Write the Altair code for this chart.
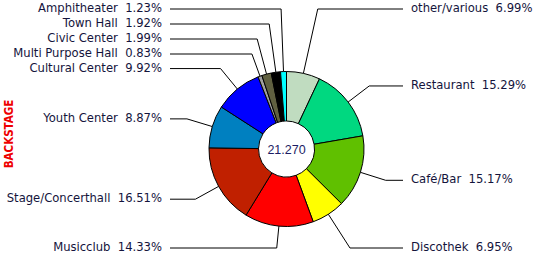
import math

import altair as alt
import pandas as pd

# Venue types, clockwise from 12 o'clock, with their share of all events (%)
categories = [
    "other/various", "Restaurant", "Café/Bar", "Discothek", "Musicclub",
    "Stage/Concerthall", "Youth Center", "Cultural Center",
    "Multi Purpose Hall", "Civic Center", "Town Hall", "Amphitheater",
]
shares = [6.99, 15.29, 15.17, 6.95, 14.33, 16.51, 8.87, 9.92, 0.83, 1.99, 1.92, 1.23]
colors = [
    "#c0dcc0", "#00d880", "#60c000", "#ffff00", "#ff0000",
    "#c02000", "#0080c0", "#0000ff",
    "#a0a0a0", "#606040", "#000000", "#00ffff",
]
total_label = "21.270"
side_title = "BACKSTAGE"

# Layout (pixels)
W, H = 536, 258
CX, CY = 286.5, 149
R_OUT, R_IN = 77.5, 28
R_LABEL = 104
TOP_ROW, BOTTOM_ROW, ROW_STEP = 9, 248, 15
LEFT_END, RIGHT_END = 170, 403
LEFT_TEXT, RIGHT_TEXT = 162, 411
TEXT_COLOR = "#14143c"

total = sum(shares)
labels = []
acc = 0.0
for i, (cat, pct) in enumerate(zip(categories, shares)):
    mid = (acc + pct / 2) / total * 2 * math.pi
    acc += pct
    s, c = math.sin(mid), math.cos(mid)
    labels.append(dict(idx=i, cat=cat, pct=pct, sin=s, cos=c,
                       side="right" if s >= 0 else "left",
                       y=CY - R_LABEL * c))

# Labels of near-vertical slices are stacked in rows at the top / bottom edge
for side in ("left", "right"):
    top = sorted([l for l in labels if l["side"] == side and l["cos"] > 0.8],
                 key=lambda l: l["y"])
    for k, l in enumerate(top):
        l["y"] = TOP_ROW + k * ROW_STEP
    bottom = sorted([l for l in labels if l["side"] == side and l["cos"] < -0.8],
                    key=lambda l: -l["y"])
    for k, l in enumerate(bottom):
        l["y"] = BOTTOM_ROW - k * ROW_STEP

segments = []
for l in labels:
    ex, ey = CX + R_OUT * l["sin"], CY - R_OUT * l["cos"]
    t = (CY - l["y"]) / l["cos"]
    kx = CX + t * l["sin"]
    end = RIGHT_END if l["side"] == "right" else LEFT_END
    segments.append(dict(x=ex, y=ey, x2=kx, y2=l["y"]))
    segments.append(dict(x=kx, y=l["y"], x2=end, y2=l["y"]))
    l["text"] = f"{l['cat']} \u00a0{l['pct']:.2f}%"
    l["tx"] = RIGHT_TEXT if l["side"] == "right" else LEFT_TEXT

slices = pd.DataFrame({"idx": range(len(categories)), "cat": categories, "pct": shares})
lab_df = pd.DataFrame(labels)
seg_df = pd.DataFrame(segments)

xs = alt.Scale(domain=[0, W], range=[0, W], nice=False, zero=False)
ys = alt.Scale(domain=[0, H], range=[0, H], nice=False, zero=False)

arcs = alt.Chart(slices).mark_arc(
    outerRadius=R_OUT, innerRadius=R_IN, stroke="black", strokeWidth=1
).encode(
    theta=alt.Theta("pct:Q", stack=True),
    color=alt.Color("cat:N", scale=alt.Scale(domain=categories, range=colors), legend=None),
    order=alt.Order("idx:Q"),
    x=alt.value(CX),
    y=alt.value(CY),
)

leaders = alt.Chart(seg_df).mark_rule(color="black", strokeWidth=1).encode(
    x=alt.X("x:Q", scale=xs, axis=None),
    y=alt.Y("y:Q", scale=ys, axis=None),
    x2="x2:Q",
    y2="y2:Q",
)

text_style = dict(font="DejaVu Sans", fontSize=11.6, color=TEXT_COLOR, baseline="middle")

right_text = alt.Chart(lab_df[lab_df.side == "right"]).mark_text(align="left", **text_style).encode(
    x=alt.X("tx:Q", scale=xs, axis=None),
    y=alt.Y("y:Q", scale=ys, axis=None),
    text="text:N",
)
left_text = alt.Chart(lab_df[lab_df.side == "left"]).mark_text(align="right", **text_style).encode(
    x=alt.X("tx:Q", scale=xs, axis=None),
    y=alt.Y("y:Q", scale=ys, axis=None),
    text="text:N",
)

center = alt.Chart(pd.DataFrame({"t": [total_label]})).mark_text(
    font="Liberation Sans", fontSize=12.5, color="#1c1c64", baseline="middle", align="center"
).encode(x=alt.value(CX), y=alt.value(CY + 1), text="t:N")

title = alt.Chart(pd.DataFrame({"t": [side_title]})).mark_text(
    font="DejaVu Sans Condensed, sans-serif", fontSize=11.5,
    fontWeight="bold", color="#ee0000", angle=270, baseline="middle", align="center"
).encode(x=alt.value(9.5), y=alt.value(134), text="t:N")

chart = alt.layer(arcs, leaders, left_text, right_text, center, title).properties(
    width=W, height=H, padding=0, autosize=alt.AutoSizeParams(type="none"),
    background="white",
).configure_view(stroke=None)

chart.save("out.html", embed_options={"renderer": "svg", "actions": False})
